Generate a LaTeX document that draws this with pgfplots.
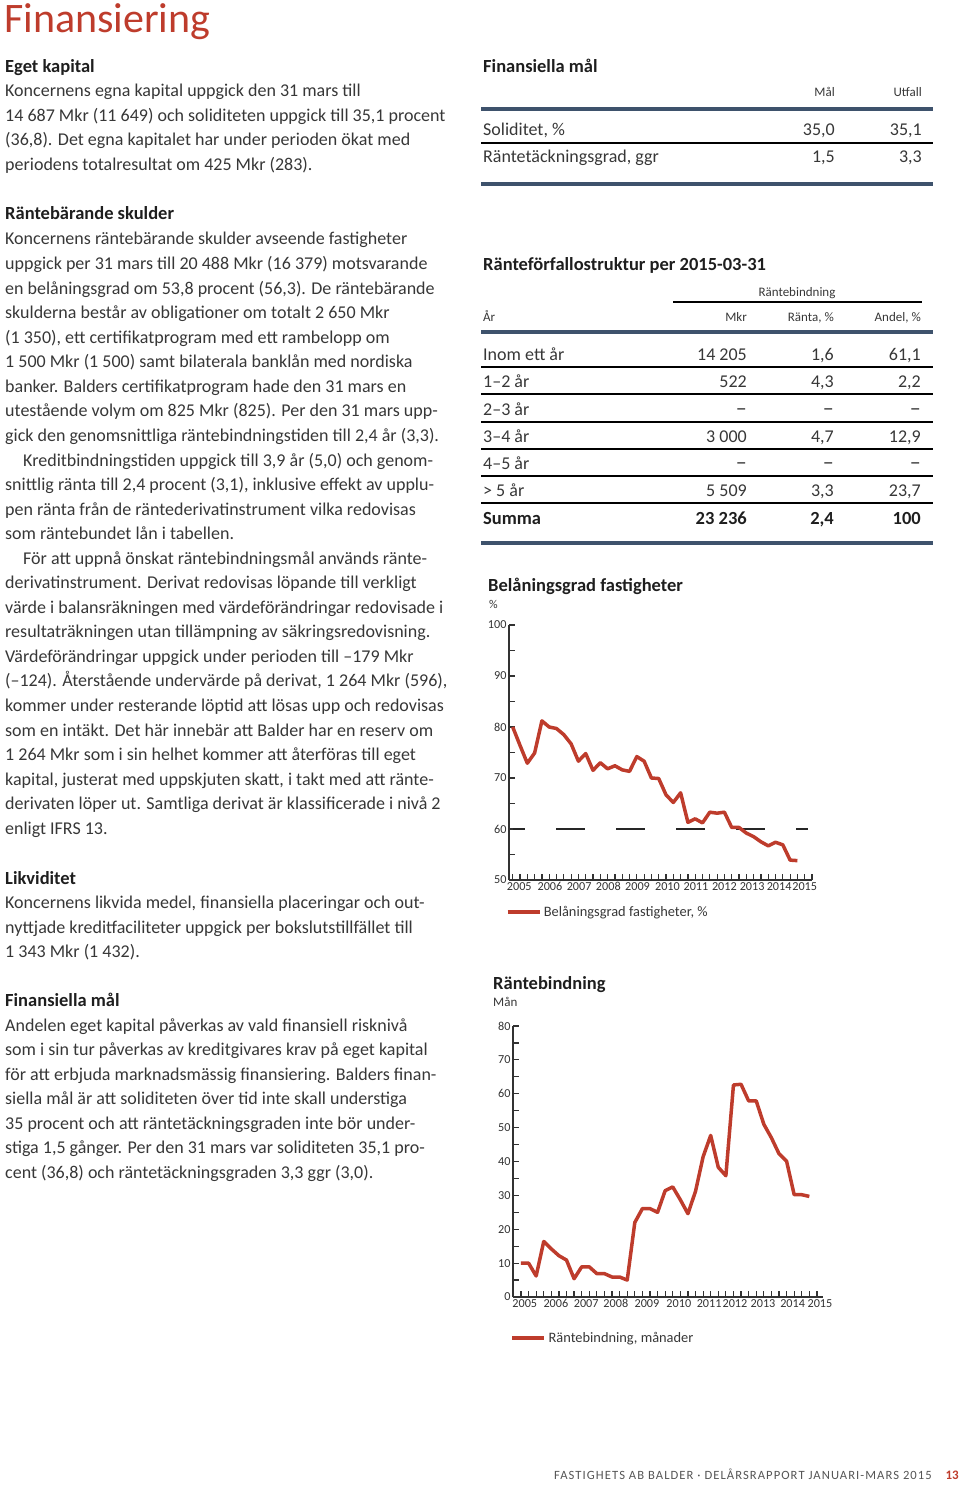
\documentclass[border=0pt]{standalone}
\usepackage{fontspec}
\setmainfont{Carlito}
\usepackage{pgfplots}
\pgfplotsset{compat=1.18}
\definecolor{redc}{RGB}{190,60,44}
\definecolor{txt}{RGB}{55,55,55}
\definecolor{hd}{RGB}{30,30,30}
\definecolor{rulec}{RGB}{62,82,108}
\definecolor{thin}{RGB}{165,165,165}
\definecolor{axc}{RGB}{50,50,50}
\newcommand\body{\fontsize{18}{22}\selectfont}
\newcommand\bodyb{\fontsize{18.5}{22}\selectfont\bfseries}
\newcommand\smallf{\fontsize{13}{15}\selectfont}
\newcommand\T[3]{\node[anchor=base west,inner sep=0pt,font=\body,text=txt] at (#1pt,-#2pt) {#3};}
\newcommand\HD[3]{\node[anchor=base west,inner sep=0pt,font=\bodyb,text=hd] at (#1pt,-#2pt) {#3};}
\newcommand\RR[3]{\node[anchor=base east,inner sep=0pt,font=\body,text=txt] at (#1pt,-#2pt) {#3};}
\newcommand\RB[3]{\node[anchor=base east,inner sep=0pt,font=\bodyb,text=hd] at (#1pt,-#2pt) {#3};}
\newcommand\RS[3]{\node[anchor=base east,inner sep=0pt,font=\smallf,text=txt] at (#1pt,-#2pt) {#3};}
\newcommand\HR[2]{\draw[rulec,line width=4pt] (481pt,-#1pt) -- (933pt,-#1pt);}
\newcommand\TR[1]{\draw[thin,line width=1.2pt] (481pt,-#1pt) -- (933pt,-#1pt);}
\newcommand\ND{{\fontsize{22}{22}\selectfont –}}
\begin{document}
\begin{tikzpicture}
\path (0,0) rectangle (960pt,-1487pt);
% Title
\node[anchor=base west,inner sep=0pt,font=\fontsize{42}{46}\selectfont,text=redc] at (4pt,-33pt) {Finansiering};
% Left column
\HD{5}{73}{Eget kapital}
\T{5}{97}{Koncernens egna kapital uppgick den 31 mars till}
\T{5}{122}{14 687 Mkr (11 649) och soliditeten uppgick till 35,1 procent}
\T{5}{146}{(36,8). Det egna kapitalet har under perioden ökat med}
\T{5}{171}{periodens totalresultat om 425 Mkr (283).}
\HD{5}{220}{Räntebärande skulder}
\T{5}{245}{Koncernens räntebärande skulder avseende fastigheter}
\T{5}{269.6}{uppgick per 31 mars till 20 488 Mkr (16 379) motsvarande}
\T{5}{294.1}{en belåningsgrad om 53,8 procent (56,3). De räntebärande}
\T{5}{318.7}{skulderna består av obligationer om totalt 2 650 Mkr}
\T{5}{343.2}{(1 350), ett certifikatprogram med ett rambelopp om}
\T{5}{367.8}{1 500 Mkr (1 500) samt bilaterala banklån med nordiska}
\T{5}{392.3}{banker. Balders certifikatprogram hade den 31 mars en}
\T{5}{416.9}{utestående volym om 825 Mkr (825). Per den 31 mars upp-}
\T{5}{441.4}{gick den genomsnittliga räntebindningstiden till 2,4 år (3,3).}
\T{23}{466}{Kreditbindningstiden uppgick till 3,9 år (5,0) och genom-}
\T{5}{490.5}{snittlig ränta till 2,4 procent (3,1), inklusive effekt av upplu-}
\T{5}{515}{pen ränta från de räntederivatinstrument vilka redovisas}
\T{5}{539.6}{som räntebundet lån i tabellen.}
\T{23}{564.2}{För att uppnå önskat räntebindningsmål används ränte-}
\T{5}{588.7}{derivatinstrument. Derivat redovisas löpande till verkligt}
\T{5}{613.2}{värde i balansräkningen med värdeförändringar redovisade i}
\T{5}{637.8}{resultaträkningen utan tillämpning av säkringsredovisning.}
\T{5}{662.4}{Värdeförändringar uppgick under perioden till –179 Mkr}
\T{5}{686.9}{(–124). Återstående undervärde på derivat, 1 264 Mkr (596),}
\T{5}{711.5}{kommer under resterande löptid att lösas upp och redovisas}
\T{5}{736}{som en intäkt. Det här innebär att Balder har en reserv om}
\T{5}{760.6}{1 264 Mkr som i sin helhet kommer att återföras till eget}
\T{5}{785.1}{kapital, justerat med uppskjuten skatt, i takt med att ränte-}
\T{5}{809.7}{derivaten löper ut. Samtliga derivat är klassificerade i nivå 2}
\T{5}{834.2}{enligt IFRS 13.}
\HD{5}{884}{Likviditet}
\T{5}{908.5}{Koncernens likvida medel, finansiella placeringar och out-}
\T{5}{933}{nyttjade kreditfaciliteter uppgick per bokslutstillfället till}
\T{5}{957.5}{1 343 Mkr (1 432).}
\HD{5}{1006}{Finansiella mål}
\T{5}{1031}{Andelen eget kapital påverkas av vald finansiell risknivå}
\T{5}{1055.5}{som i sin tur påverkas av kreditgivares krav på eget kapital}
\T{5}{1080}{för att erbjuda marknadsmässig finansiering. Balders finan-}
\T{5}{1104.5}{siella mål är att soliditeten över tid inte skall understiga}
\T{5}{1129}{35 procent och att räntetäckningsgraden inte bör under-}
\T{5}{1153.5}{stiga 1,5 gånger. Per den 31 mars var soliditeten 35,1 pro-}
\T{5}{1178}{cent (36,8) och räntetäckningsgraden 3,3 ggr (3,0).}
% Table 1
\HD{483}{73}{Finansiella mål}
\RS{835}{97}{Mål}
\RS{922}{97}{Utfall}
\HR{109}{}
\T{483}{136}{Soliditet, \%}
\RR{835}{136}{35,0}
\RR{922}{136}{35,1}
\TR{143}
\T{483}{163}{Räntetäckningsgrad, ggr}
\RR{835}{163}{1,5}
\RR{922}{163}{3,3}
\HR{184}{}
% Table 2
\HD{483}{271}{Ränteförfallostruktur per 2015-03-31}
\node[anchor=base,inner sep=0pt,font=\smallf,text=txt] at (797pt,-297pt) {Räntebindning};
\draw[thin,line width=1.2pt] (673pt,-302pt) -- (922pt,-302pt);
\node[anchor=base west,inner sep=0pt,font=\smallf,text=txt] at (483pt,-322pt) {År};
\RS{747}{322}{Mkr}
\RS{834}{322}{Ränta, \%}
\RS{921}{322}{Andel, \%}
\HR{332}{}
\T{483}{360}{Inom ett år}\RR{747}{360}{14 205}\RR{834}{360}{1,6}\RR{921}{360}{61,1}
\TR{367}
\T{483}{387.5}{1–2 år}\RR{747}{387.5}{522}\RR{834}{387.5}{4,3}\RR{921}{387.5}{2,2}
\TR{394}
\T{483}{415}{2–3 år}\RR{747}{415}{\ND}\RR{834}{415}{\ND}\RR{921}{415}{\ND}
\TR{422}
\T{483}{442}{3–4 år}\RR{747}{442}{3 000}\RR{834}{442}{4,7}\RR{921}{442}{12,9}
\TR{449}
\T{483}{469}{4–5 år}\RR{747}{469}{\ND}\RR{834}{469}{\ND}\RR{921}{469}{\ND}
\TR{476}
\T{483}{496}{> 5 år}\RR{747}{496}{5 509}\RR{834}{496}{3,3}\RR{921}{496}{23,7}
\TR{503}
\HD{483}{524}{Summa}\RB{747}{524}{23 236}\RB{834}{524}{2,4}\RB{921}{524}{100}
\HR{543}{}
% Chart titles
\HD{488}{591}{Belåningsgrad fastigheter}
\node[anchor=base west,inner sep=0pt,font=\fontsize{12}{14}\selectfont,text=txt] at (489pt,-608pt) {\%};
\HD{493}{989}{Räntebindning}
\node[anchor=base west,inner sep=0pt,font=\fontsize{13}{15}\selectfont,text=txt] at (493pt,-1006pt) {Mån};
% Footer
\node[anchor=base west,inner sep=0pt,font=\fontsize{12.6}{14}\selectfont\addfontfeature{LetterSpace=8.5},text=txt!85] at (554pt,-1479pt) {FASTIGHETS AB BALDER · DELÅRSRAPPORT JANUARI-MARS 2015};
\node[anchor=base east,inner sep=0pt,font=\fontsize{13}{15}\selectfont\bfseries,text=redc] at (959pt,-1479pt) {13};

\pgfplotsset{pagechart/.style={
  scale only axis,
  axis x line*=bottom, axis y line*=left,
  axis line style={draw=axc, line width=1.4pt},
  tick align=inside,
  major tick length=6pt, minor tick length=6pt,
  tick style={draw=axc, line width=1.2pt},
  xticklabels={},
  tick label style={font=\fontsize{12.2}{14}\selectfont, text=axc},
  xticklabel style={text height=8.5pt, text depth=0pt, inner sep=2pt},
  yticklabel style={xshift=1pt},
  /pgf/number format/assume math mode=true,
  extra x tick style={major tick length=0pt},
  legend style={draw=none, fill=none, inner sep=0pt, anchor=west, font=\fontsize{14.4}{16}\selectfont, text=txt},
  legend image code/.code={\draw[##1, line width=4.5pt] (0pt,0pt) -- (32pt,0pt);},
}}
% Chart 1
\begin{axis}[pagechart,
  at={(509pt,-880pt)}, anchor=south west, width=303pt, height=255pt,
  xmin=-0.507, xmax=41.0, ymin=50, ymax=100,
  xtick={0,1,...,41},
  extra x ticks={0.9,5.1,9.1,13.1,17.1,21.2,25.1,29.0,32.8,36.5,40.0},
  extra x tick labels={2005,2006,2007,2008,2009,2010,2011,2012,2013,2014,2015},
  ytick={50,60,...,100}, minor ytick={55,65,...,95},
  legend style={at={(-0.013,-0.125)}},
]
\addplot[forget plot, draw=black!85, line width=1.3pt, dash pattern=on 29pt off 31pt, dash phase=17pt] coordinates {(0.04,60) (40.45,60)};
\addplot[redc, line width=3.5pt, line join=round] coordinates {
(0,80) (1,76.4) (2,72.9) (3,74.9) (4,81.2) (5,80) (6,79.7) (7,78.5) (8,76.7) (9,73.3)
(10,74.8) (11,71.5) (12,73) (13,71.8) (14,72.4) (15,71.6) (16,71.3) (17,74.2) (18,73.3) (19,70)
(20,69.9) (21,66.7) (22,65.2) (23,67.1) (24,61.3) (25,62) (26,61.2) (27,63.3) (28,63.1) (29,63.3)
(30,60.3) (31,60.3) (32,59.2) (33,58.5) (34,57.5) (35,56.7) (36,57.4) (37,56.9) (38,53.9) (39,53.8)};
\addlegendentry{Belåningsgrad fastigheter, \%}
\end{axis}
% Chart 2
\begin{axis}[pagechart,
  at={(513pt,-1297pt)}, anchor=south west, width=310pt, height=271pt,
  xmin=-1.05, xmax=39.8, ymin=0, ymax=80,
  xtick={0,1,...,39},
  extra x ticks={0.5,4.6,8.6,12.5,16.6,20.8,24.8,28.2,31.9,35.8,39.4},
  extra x tick labels={2005,2006,2007,2008,2009,2010,2011,2012,2013,2014,2015},
  ytick={0,10,...,80}, minor ytick={5,15,...,75},
  legend style={at={(-0.01,-0.151)}},
]
\addplot[redc, line width=3.5pt, line join=round] coordinates {
(0,10) (1,10) (2,6.2) (3,16.4) (4,14.2) (5,12.2) (6,10.9) (7,5.4) (8,8.9) (9,8.9)
(10,6.9) (11,6.9) (12,5.9) (13,5.9) (14,5.0) (15,22) (16,26.1) (17,26.1) (18,25) (19,31.4)
(20,32.5) (21,28.7) (22,24.6) (23,31.2) (24,41.4) (25,47.7) (26,38.3) (27,35.8) (28,62.6) (29,62.8)
(30,57.9) (31,57.9) (32,51) (33,47) (34,42.3) (35,40.1) (36,30.2) (37,30.2) (38,29.7)};
\addlegendentry{Räntebindning, månader}
\end{axis}
\end{tikzpicture}
\end{document}
